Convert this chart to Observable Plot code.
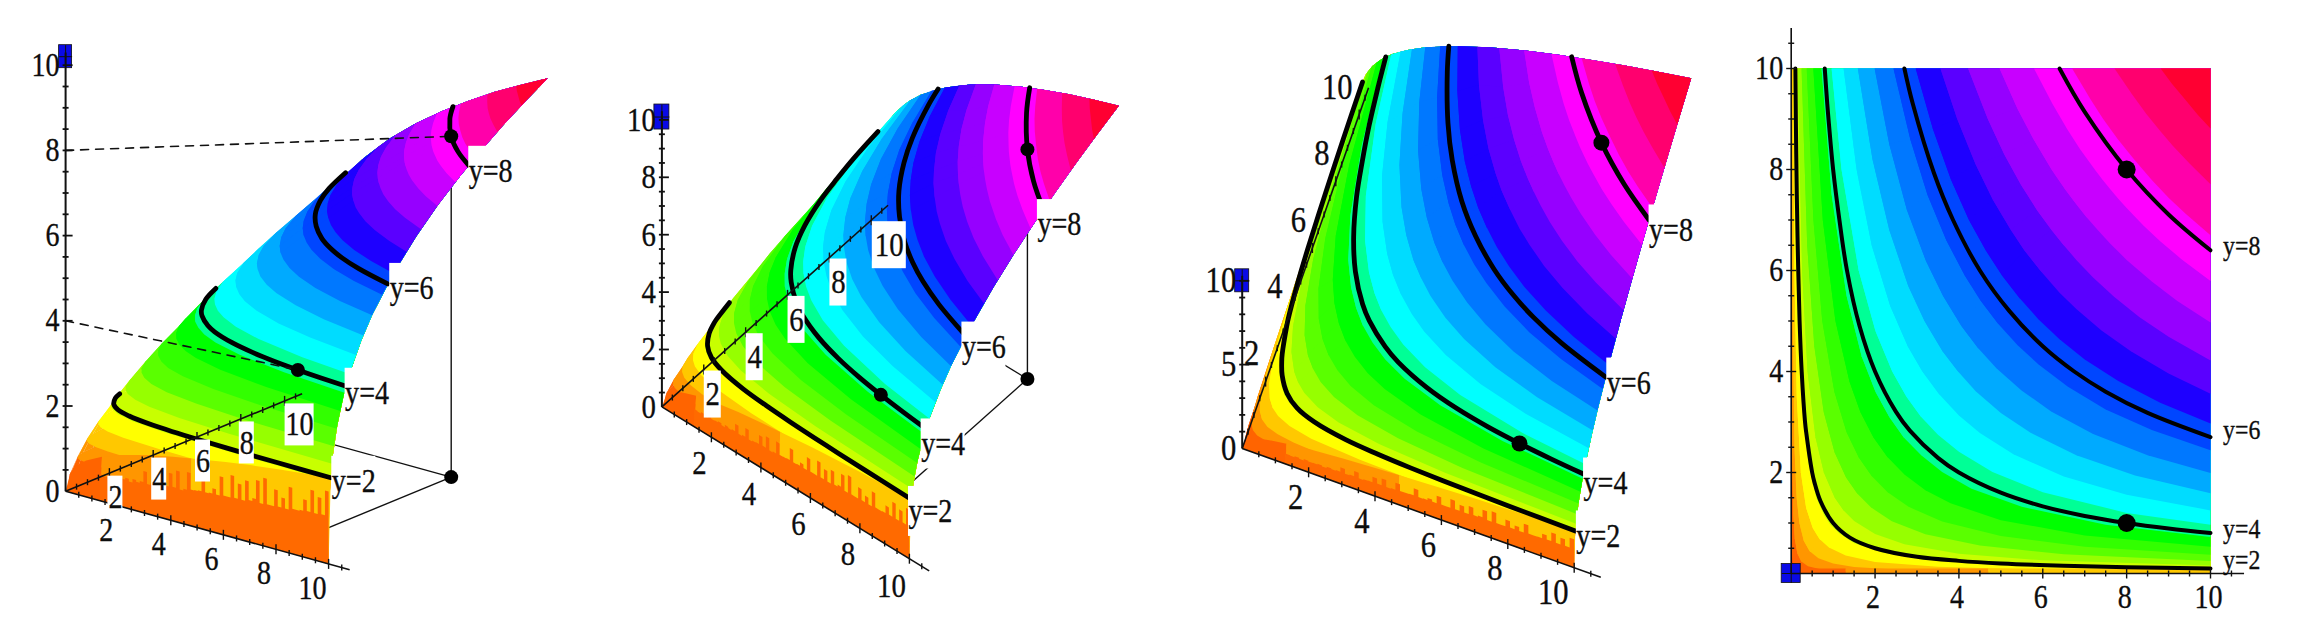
<!DOCTYPE html>
<html><head><meta charset="utf-8">
<style>html,body{margin:0;padding:0;background:#fff}svg{display:block}</style>
<script src="https://cdn.jsdelivr.net/npm/d3@7"></script>
<script src="https://cdn.jsdelivr.net/npm/@observablehq/plot@0.6"></script>
</head><body><div id="chart"></div>
<script>
// ---------- values ----------
const xTicks = [2,4,6,8,10];
const yTicks = [2,4,6,8,10];
const zTicksBig = [0,2,4,6,8,10];
const zTicksSparse = [0,5,10];
const contourLevels = [2,4,6,8];

// shaded band colours, lowest surface height first
const bandColors = ["#ff2800","#ff6400","#ff9600","#ffc800","#ffff00","#c8ff00","#96ff00","#5aff00","#32ff00","#00ff00","#00ff96","#00ffff","#00dcff","#00aaff","#0078ff","#0046ff","#1e00ff","#5a00ff","#9600ff","#c800ff","#ff00ff","#ff00aa","#ff006e","#ff0032"];
// height at which each band starts
const bandLevels = [0,.387,.773,1.16,1.547,1.933,2.32,2.707,3.093,3.48,3.867,4.253,4.64,5.027,5.413,5.8,6.187,6.573,6.96,7.347,7.733,8.12,8.507,8.893];

// band edges from the top border to the diagonal; the picture is mirror-symmetric
const bandEdgeX = [null,
 [.00072,.00145,.0036,.0072,.0145,.036,.085],
 [.0058,.0116,.023,.048,.083,.145,.24],
 [.02,.039,.078,.13,.196,.30,.442],
 [.046,.077,.132,.23,.356,.514,.68],
 [.09,.15,.26,.41,.6,.79,.95],
 [.156,.26,.39,.58,.78,1.04,1.25],
 [.248,.382,.552,.776,1.035,1.31,1.58],
 [.371,.53,.741,1.03,1.32,1.61,1.925],
 [.528,.754,1.056,1.39,1.65,1.96,2.3],
 [.724,.965,1.32,1.68,2.01,2.34,2.69],
 [.964,1.2,1.61,2.01,2.41,2.75,3.1],
 [1.25,1.56,1.92,2.36,2.78,3.13,3.54],
 [1.59,1.94,2.34,2.79,3.18,3.61,3.99],
 [1.99,2.34,2.76,3.21,3.62,4.06,4.46],
 [2.44,2.84,3.25,3.7,4.14,4.52,4.94],
 [2.97,3.38,3.81,4.24,4.64,5.03,5.45],
 [3.56,3.96,4.4,4.81,5.24,5.56,5.97],
 [4.22,4.69,5.08,5.48,5.86,6.21,6.5],
 [4.97,5.4,5.78,6.21,6.54,6.81,7.05],
 [5.79,6.23,6.58,6.89,7.24,7.42,7.61],
 [6.7,7.13,7.44,7.79,8.19],
 [7.71,8.12,8.47,8.78],
 [8.81,9.08,9.39]];
const bandEdgeY = [null,
 [10,5,2,1,.5,.2,.085],
 [10,5,2.5,1.2,.7,.4,.24],
 [10,5,2.5,1.5,1,.65,.442],
 [10,6,3.5,2,1.3,.9,.68],
 [10,6,3.5,2.2,1.5,1.15,.95],
 [10,6,4,2.7,2,1.5,1.25],
 [10,6.5,4.5,3.2,2.4,1.9,1.58],
 [10,7,5,3.6,2.8,2.3,1.925],
 [10,7,5,3.8,3.2,2.7,2.3],
 [10,7.5,5.5,4.3,3.6,3.1,2.69],
 [10,8,6,4.8,4,3.5,3.1],
 [10,8,6.5,5.3,4.5,4,3.54],
 [10,8.2,6.8,5.7,5,4.4,3.99],
 [10,8.5,7.2,6.2,5.5,4.9,4.46],
 [10,8.6,7.5,6.6,5.9,5.4,4.94],
 [10,8.8,7.8,7,6.4,5.9,5.45],
 [10,9,8.1,7.4,6.8,6.4,5.97],
 [10,9,8.3,7.7,7.2,6.8,6.5],
 [10,9.2,8.6,8,7.6,7.3,7.05],
 [10,9.3,8.8,8.4,8,7.8,7.61],
 [10,9.4,9,8.6,8.19],
 [10,9.5,9.1,8.78],
 [10,9.7,9.39]];

// surface height along its outer border (x=10 or y=10)
const borderPos = [.01,.05,.1,.2,.4,.7,1,1.5,2,3,4,5,6,7,8,9,10];
const borderZ   = [.93,1.59,2,2.52,3.17,3.83,4.31,4.93,5.43,6.21,6.84,7.37,7.83,8.24,8.62,8.96,9.28];

// black level curves y=2,4,6,8
const contour2X = [.1,.12,.15,.2,.25,.33,.357,.5,.556,.7,1,1.4,2,3,4,5,6.5,8,10];
const contour2Y = [10,8.3,6.7,5,4,3,2.8,2,1.8,1.43,1,.71,.5,.33,.25,.2,.154,.125,.1];
const contour4X = [.8,.86,.9,1,1.15,1.33,1.63,2,2.5,2.83,3.5,4,5,6,7,8,9,10];
const contour4Y = [10,9.3,8.9,8,7,6,4.9,4,3.2,2.83,2.29,2,1.6,1.33,1.14,1,.89,.8];
const contour6X = [2.7,2.9,3.4,3.86,4.5,5.2,6,6.75,7.5,8.5,10];
const contour6Y = [10,9.3,7.94,7,6,5.2,4.5,4,3.6,3.18,2.7];
const contour8X = [6.4,7,8,9,10];
const contour8Y = [10,9.14,8,7.11,6.4];

// marked points (x, y, surface height)
const pointX = [8,8];
const pointY = [8,1];
const pointZ = [8,4];

// coarse first mesh row next to the x axis, and its ragged lower stripes
const stripX = [.1,.3,.7,1.3,2,3,4,4.7,6,7,8,9,10];
const stripZ = [.43,.62,.82,1.01,1.17,1.34,1.47,1.55,1.69,1.78,1.86,1.93,2];
const raggedHeights = [.62,.60,.66,.60,.68,.64,.66,.70,.64,.72,.68,.72,.98,.70,.74,1.05,.72,.76,.78,1.10,.80,1.20,.78,.82,1.24,.85,.86,.88,1.30,.88,.90,1.02,.90,1.35,.92,.92,1.45,.94,1.30,.94,1.42,.98,1.05,1.50,.98,1.60,1.00,1.00,1.40,1.02,1.25,1.02,1.55,1.06,1.06,1.08,1.35,1.10,1.62,1.10,1.50,1.12,1.70];

// ---------- layout of the four views ----------
const views = [
 {o:[65.1,490.7], ex:[26.3,7.27],  ey:[21.9,-9.03],  ez:42.6, zT:zTicksBig, zStep:.5, clip:[1.8,4.9,9.3,11], box:true,
  xOff:[-12,24.5], x10:[-16,25], yOff:[6,24], y10:[15,24], boxW:15, boxH:42, box10:29, fs:33, labFs:33, r:7, blue:[13,23], zBlue:10.2,
  lab:[[1,3.5],[-1,7],[2,4.5],[0,6]]},
 {o:[661.4,406.4], ex:[24.75,15.18], ey:[20.94,-18.67], ez:28.7, zT:zTicksBig, zStep:.5, clip:[2.8,9.3,11,11], box:true,
  xOff:[-12,26], x10:[-18,27], yOff:[9,25], y10:[18,25], boxW:17, boxH:47, box10:34, fs:34, labFs:33, r:7, blue:[15,25], zBlue:10.1,
  lab:[[-3,12],[-5,15],[-4,11],[-6,15]]},
 {o:[1241.7,447.9], ex:[33.2,11.94], ey:[11.7,-33.4], ez:16.76, zT:zTicksSparse, zStep:1, clip:[11,11,11,11], box:false,
  xOff:[-13,25], x10:[-21,25], yOff:[-14,-28], y10:[-22,-27], fs:36, labFs:33, r:8, blue:[14,23], zBlue:10,
  lab:[[1,5],[0,9],[1,6],[0,10]]},
 {o:[1790.7,573], ex:[41.93,0], ey:[0,-50.5], ez:0, zT:[], zStep:0, clip:[11,11,11,11], box:false, flat:true,
  xOff:[-2,24], x10:[-2,24], yOff:[-8,0], y10:[-8,0], fs:33, labFs:28, r:9, blue:[19,19], zBlue:0,
  lab:[[12.6,-8],[12.6,-4],[12.6,-7],[12.6,-4]]}
];

const proj = (v,x,y,z)=>[v.o[0]+v.ex[0]*x+v.ey[0]*y, v.o[1]+v.ex[1]*x+v.ey[1]*y-v.ez*z];
const contourX = [contour2X,contour4X,contour6X,contour8X];
const contourY = [contour2Y,contour4Y,contour6Y,contour8Y];

// ---------- derived rows ----------
const polys=[], links=[], thin=[], contours=[], contoursFlat=[], dashes=[], dots=[], backDots=[];
const boxes=[], labStart=[], labMid=[], labEnd=[], blues=[];
const raggedStep=(10-1.3)/raggedHeights.length;

views.forEach((v,p)=>{
  const add=(id,color,pts)=>pts.forEach(q=>{const [a,b]=proj(v,q[0],q[1],q[2]);polys.push({px:a,py:b,id:p+"-"+id,color});});
  // shaded bands, lowest first
  bandColors.forEach((c,k)=>{
    const pts=[];
    if(k===0){
      pts.push([0,0,0],[10,0,0]);
      borderPos.forEach((s,i)=>pts.push([10,s,borderZ[i]]));
      [...borderPos].reverse().forEach((s,i)=>pts.push([s,10,borderZ[borderZ.length-1-i]]));
      pts.push([0,10,0]);
    } else {
      const L=bandLevels[k], X=bandEdgeX[k], Y=bandEdgeY[k];
      X.forEach((x,i)=>pts.push([x,Y[i],L]));
      for(let i=X.length-2;i>=0;i--) pts.push([Y[i],X[i],L]);
      borderPos.forEach((s,i)=>{ if(s>X[0]) pts.push([10,s,borderZ[i]]); });
      for(let i=borderPos.length-2;i>=0;i--) if(borderPos[i]>X[0]) pts.push([borderPos[i],10,borderZ[i]]);
    }
    add("b"+k,c,pts);
    // the strip between this edge and the next, so the fold of the surface stays closed
    if(k<20){
      const nx=bandEdgeX[k+1], ny=bandEdgeY[k+1], ox=k?bandEdgeX[k]:null, oy=k?bandEdgeY[k]:null, L0=bandLevels[k], L1=bandLevels[k+1];
      for(let i=0;i<nx.length-1;i++){
        const a0=ox?[ox[i],oy[i],L0]:[0,ny[i],0], a1=ox?[ox[i+1],oy[i+1],L0]:[0,ny[i+1],0];
        add("q"+k+"_"+i,c,[a0,a1,[nx[i+1],ny[i+1],L1],[nx[i],ny[i],L1]]);
      }
    }
  });
  // first mesh row by the x axis
  [[0,1.3,"#ff6400"],[1.3,4.7,"#ff9600"],[4.7,10,"#ffc800"]].forEach(([a,b,c],n)=>{
    const idx=stripX.map((x,i)=>i).filter(i=>stripX[i]>=a&&stripX[i]<=b);
    const pts=[[a,0,0],...idx.map(i=>[stripX[i],.1,stripZ[i]]),[b,0,0]];
    add("s"+n,c,pts);
  });
  const rag=[[1.3,0,0]];
  raggedHeights.forEach((h,i)=>{const a=1.3+i*raggedStep;rag.push([a,0,h],[a+raggedStep,0,h]);});
  rag.push([10,0,0]);
  add("r","#ff6a00",rag);

  // level curves, only where the surface does not hide them
  contourLevels.forEach((z,n)=>{
    contourX[n].forEach((x,i)=>{
      const y=contourY[n][i];
      if(y<=v.clip[n]){const [a,b]=proj(v,x,y,z);(v.flat?contoursFlat:contours).push({px:a,py:b,id:p+"-"+n});}
    });
  });
  // drop lines under the surface
  const base=proj(v,8,8,0), ax=proj(v,8,0,0), ay=proj(v,0,8,0), top=proj(v,8,8,8);
  [[base,ax],[base,ay],[base,top]].forEach(([s,e])=>thin.push({x1:s[0],y1:s[1],x2:e[0],y2:e[1]}));
  backDots.push({px:base[0],py:base[1],r:v.r});
  // axes
  const seg=(s,e,w)=>links.push({x1:s[0],y1:s[1],x2:e[0],y2:e[1],w});
  seg(proj(v,0,0,0),proj(v,10.8,0,0),1.6);
  seg(proj(v,0,0,0),proj(v,0,10.8,0),1.6);
  if(!v.flat) seg(proj(v,0,0,0),proj(v,0,0,10.3),2);
  d3.range(.5,10.9,.5).forEach(t=>{
    const big=t%2===0, l=big?5:3;
    let q=proj(v,t,0,0); seg([q[0],q[1]-l],[q[0],q[1]+l],1.4);
    q=proj(v,0,t,0);
    if(v.flat) seg([q[0]-l,q[1]],[q[0]+l,q[1]],1.4); else seg([q[0],q[1]-l],[q[0],q[1]+l],1.4);
  });
  if(!v.flat) d3.range(v.zStep,10.1,v.zStep).forEach(t=>{
    const q=proj(v,0,0,t), big=v.zT.includes(t);
    seg([q[0]-3,q[1]],[q[0]+(big?7:3),q[1]],1.8);
  });
  // marked points
  pointX.forEach((x,i)=>{const q=proj(v,x,pointY[i],pointZ[i]);dots.push({px:q[0],py:q[1],r:v.r});});
  // blue end marker of the height axis
  const bq=proj(v,0,0,v.zBlue);
  blues.push({x1:bq[0]-v.blue[0]/2,x2:bq[0]+v.blue[0]/2,y1:bq[1]-v.blue[1]/2,y2:bq[1]+v.blue[1]/2});
  seg([bq[0]-v.blue[0]/2,bq[1]],[bq[0]+v.blue[0]/2,bq[1]],1);
  seg([bq[0],bq[1]-v.blue[1]/2],[bq[0],bq[1]+v.blue[1]/2],1);
  // tick labels
  const fs=v.fs;
  xTicks.forEach(t=>{
    const q=proj(v,t,0,0), o=t===10?v.x10:v.xOff;
    labMid.push({px:q[0]+o[0],py:q[1]+o[1],t:String(t),fs});
  });
  yTicks.forEach(t=>{
    const q=proj(v,0,t,0), o=t===10?v.y10:v.yOff, cx=q[0]+o[0], cy=q[1]+o[1];
    if(v.box){const w=t===10?v.box10:v.boxW;boxes.push({x1:cx-w/2,x2:cx+w/2,y1:cy-v.boxH/2,y2:cy+v.boxH/2});}
    if(v.flat) labEnd.push({px:cx,py:cy,t:String(t),fs});
    else labMid.push({px:cx,py:cy,t:String(t),fs});
  });
  v.zT.forEach(t=>{const q=proj(v,0,0,t);labEnd.push({px:q[0]-6,py:q[1],t:String(t),fs});});
  // level-curve labels on white boxes
  contourLevels.forEach((z,n)=>{
    const i=contourX[n].length-1, q=proj(v,contourX[n][i],contourY[n][i],z);
    const cx=q[0]+v.lab[n][0], cy=q[1]+v.lab[n][1];
    if(!v.flat) boxes.push({x1:cx,x2:cx+44,y1:cy-25,y2:cy+25});
    labStart.push({px:cx,py:cy,t:"y="+z,fs:v.labFs});
  });
});
// dashed guides exist in the first view only
const v0=views[0];
[0,1].forEach(i=>{
  [proj(v0,0,0,pointZ[i]),proj(v0,pointX[i],pointY[i],pointZ[i])].forEach(q=>dashes.push({px:q[0],py:q[1],id:i}));
});

const txt=(rows,anchor)=>Plot.text(rows,{x:"px",y:"py",text:"t",fontSize:"fs",fontFamily:"Liberation Serif",textAnchor:anchor,lineAnchor:"middle",fill:"#0d0d0d",stroke:"#0d0d0d",strokeWidth:.35});

const chart=Plot.plot({
  width:2304,height:629,margin:0,
  x:{domain:[0,2304],range:[0,2304],axis:null},
  y:{domain:[0,629],range:[0,629],axis:null},
  color:{type:"identity"},
  r:{type:"identity"},
  marks:[
    Plot.link(thin,{x1:"x1",y1:"y1",x2:"x2",y2:"y2",stroke:"#111",strokeWidth:1.4}),
    Plot.dot(backDots,{x:"px",y:"py",r:"r",fill:"#000"}),
    Plot.line(polys,{x:"px",y:"py",z:"id",fill:"color",stroke:"none"}),
    Plot.line(contours,{x:"px",y:"py",z:"id",stroke:"#000",strokeWidth:4.8,curve:"catmull-rom",strokeLinejoin:"round"}),
    Plot.line(contoursFlat,{x:"px",y:"py",z:"id",stroke:"#000",strokeWidth:4,curve:"catmull-rom",strokeLinejoin:"round"}),
    Plot.rect(blues,{x1:"x1",x2:"x2",y1:"y1",y2:"y2",fill:"#0a0ae6",stroke:"#111",strokeWidth:.8}),
    Plot.link(links,{x1:"x1",y1:"y1",x2:"x2",y2:"y2",stroke:"#111",strokeWidth:"w"}),
    Plot.line(dashes,{x:"px",y:"py",z:"id",stroke:"#111",strokeWidth:1.6,strokeDasharray:"8,7"}),
    Plot.dot(dots,{x:"px",y:"py",r:"r",fill:"#000"}),
    Plot.rect(boxes,{x1:"x1",x2:"x2",y1:"y1",y2:"y2",fill:"#fff"}),
    txt(labMid,"middle"),txt(labEnd,"end"),txt(labStart,"start")
  ]
});
document.getElementById("chart").appendChild(chart);
// the original's lettering is horizontally condensed
chart.querySelectorAll("text").forEach(t=>{
  const w=t.getComputedTextLength();
  t.setAttribute("lengthAdjust","spacingAndGlyphs");
  t.setAttribute("textLength",(w*.85).toFixed(1));
});
</script></body></html>
